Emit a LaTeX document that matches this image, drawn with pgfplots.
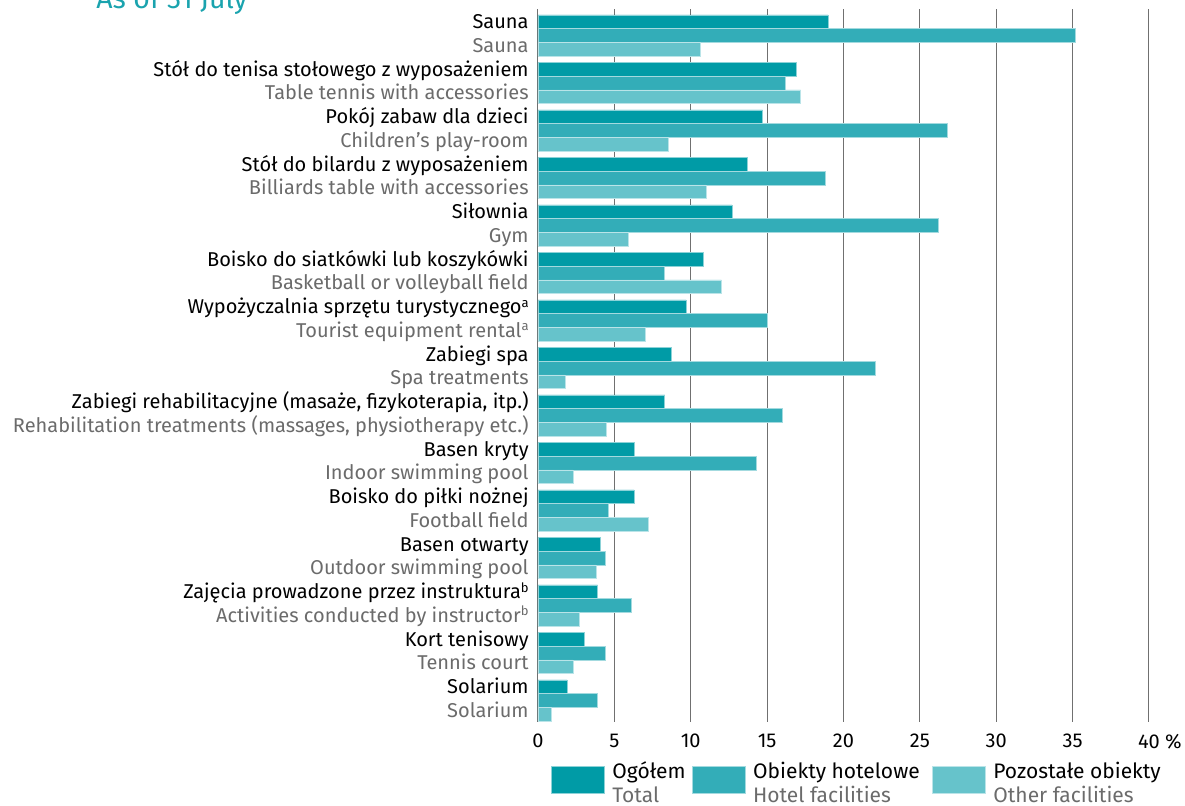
\documentclass[border=0pt]{standalone}
\usepackage{pgfplots}
\pgfplotsset{compat=1.18}
\usepackage{pgfplotstable}
\usepackage{fontspec}
\setmainfont{Fira Sans}
\definecolor{cTot}{HTML}{009BA6}
\definecolor{cHot}{HTML}{33ADB8}
\definecolor{cOth}{HTML}{66C3CB}
\definecolor{labgray}{HTML}{6B6B6B}
\definecolor{gridgray}{HTML}{707070}
\definecolor{titlecol}{HTML}{1AA3AE}

\pgfplotstableread{
pos tot hot oth
0 19.0 35.2 10.6
1 16.9 16.2 17.2
2 14.7 26.8 8.5
3 13.7 18.8 11.0
4 12.7 26.2 5.9
5 10.8 8.3 12.0
6 9.7 15.0 7.0
7 8.7 22.1 1.8
8 8.3 16.0 4.5
9 6.3 14.3 2.3
10 6.3 4.6 7.2
11 4.1 4.4 3.8
12 3.9 6.1 2.7
13 3.0 4.4 2.3
14 1.9 3.9 0.9
}\data

\newcommand{\PL}[1]{\textcolor{black}{#1}}
\newcommand{\EN}[1]{\textcolor{labgray}{#1}}
\newcommand{\sups}[1]{\raisebox{0.32em}{\fontsize{6.5}{7}\selectfont #1}}
\newcommand{\legtxt}[2]{\raisebox{0pt}[\height][\dimexpr\depth+3pt\relax]{\begin{tabular}{@{}l@{}}#1\\\textcolor{labgray}{#2}\end{tabular}}}

\begin{document}
\begin{tikzpicture}
\useasboundingbox (0pt,0pt) rectangle (592.5pt,402.5pt);
\node[anchor=base west, text=titlecol, font=\fontsize{14.2}{16}\selectfont, inner sep=0pt] at (48pt,398pt) {As of 31 July};
\begin{axis}[
  at={(269pt,41.5pt)}, anchor=south west,
  scale only axis, width=305.5pt, height=356.5pt,
  xmin=0, xmax=40, ymin=-0.558, ymax=14.453, y dir=reverse,
  xbar, bar width=6.85pt, bar shift=0pt,
  axis line style={draw=none},
  xtick={0,5,...,40},
  xticklabels={0,5,10,15,20,25,30,35,40\rlap{ \%}},
  xmajorgrids, major grid style={gridgray, line width=0.5pt},
  major tick length=0pt,
  /pgf/number format/assume math mode=true,
  xticklabel style={font=\fontsize{10}{11}\selectfont, inner sep=0pt, yshift=-6pt},
  ytick={-0.288,0.204,0.712,1.204,1.712,2.204,2.712,3.204,3.712,4.204,4.712,5.204,5.712,6.204,6.712,7.204,7.712,8.204,8.712,9.204,9.712,10.204,10.712,11.204,11.712,12.204,12.712,13.204,13.712,14.204},
  yticklabels={
    \PL{Sauna},\EN{Sauna},
    \PL{Stół do tenisa stołowego z wyposażeniem},\EN{Table tennis with accessories},
    \PL{Pokój zabaw dla dzieci},\EN{Children’s play-room},
    \PL{Stół do bilardu z wyposażeniem},\EN{Billiards table with accessories},
    \PL{Siłownia},\EN{Gym},
    \PL{Boisko do siatkówki lub koszykówki},\EN{Basketball or volleyball field},
    \PL{Wypożyczalnia sprzętu turystycznego\sups{a}},\EN{Tourist equipment rental\sups{a}},
    \PL{Zabiegi spa},\EN{Spa treatments},
    {\PL{Zabiegi rehabilitacyjne (masaże, fizykoterapia, itp.)}},{\EN{Rehabilitation treatments (massages, physiotherapy etc.)}},
    \PL{Basen kryty},\EN{Indoor swimming pool},
    \PL{Boisko do piłki nożnej},\EN{Football field},
    \PL{Basen otwarty},\EN{Outdoor swimming pool},
    \PL{Zajęcia prowadzone przez instruktura\sups{b}},\EN{Activities conducted by instructor\sups{b}},
    \PL{Kort tenisowy},\EN{Tennis court},
    \PL{Solarium},\EN{Solarium}},
  yticklabel style={font=\fontsize{10}{12}\selectfont, inner sep=0pt, anchor=base east, xshift=-4.5pt, yshift=-3.5pt},
  clip=false,
  legend columns=3,
  legend style={draw=none, fill=none, at={(axis description cs:0.021,-0.0558)}, anchor=north west,
    inner sep=0pt, outer sep=0pt, font=\fontsize{10.5}{12}\selectfont,
    nodes={inner sep=0pt},
    /tikz/every odd column/.append style={column sep=4pt},
    /tikz/every even column/.append style={column sep=3pt}},
  legend image code/.code={\fill[#1] (0pt,-7.75pt) rectangle (26.5pt,5.75pt);},
]
\addplot[fill=cTot, draw=white!55!cTot, line width=0.3pt] table[x=tot, y expr=\thisrow{pos}-0.288] {\data};
\addplot[fill=cHot, draw=white!55!cHot, line width=0.3pt] table[x=hot, y=pos] {\data};
\addplot[fill=cOth, draw=white!55!cOth, line width=0.3pt] table[x=oth, y expr=\thisrow{pos}+0.288] {\data};
\legend{{\legtxt{Ogółem}{Total}},
        {\legtxt{Obiekty hotelowe}{Hotel facilities}\rule{3pt}{0pt}},
        {\legtxt{Pozostałe obiekty}{Other facilities}}}
\end{axis}
\end{tikzpicture}
\end{document}
